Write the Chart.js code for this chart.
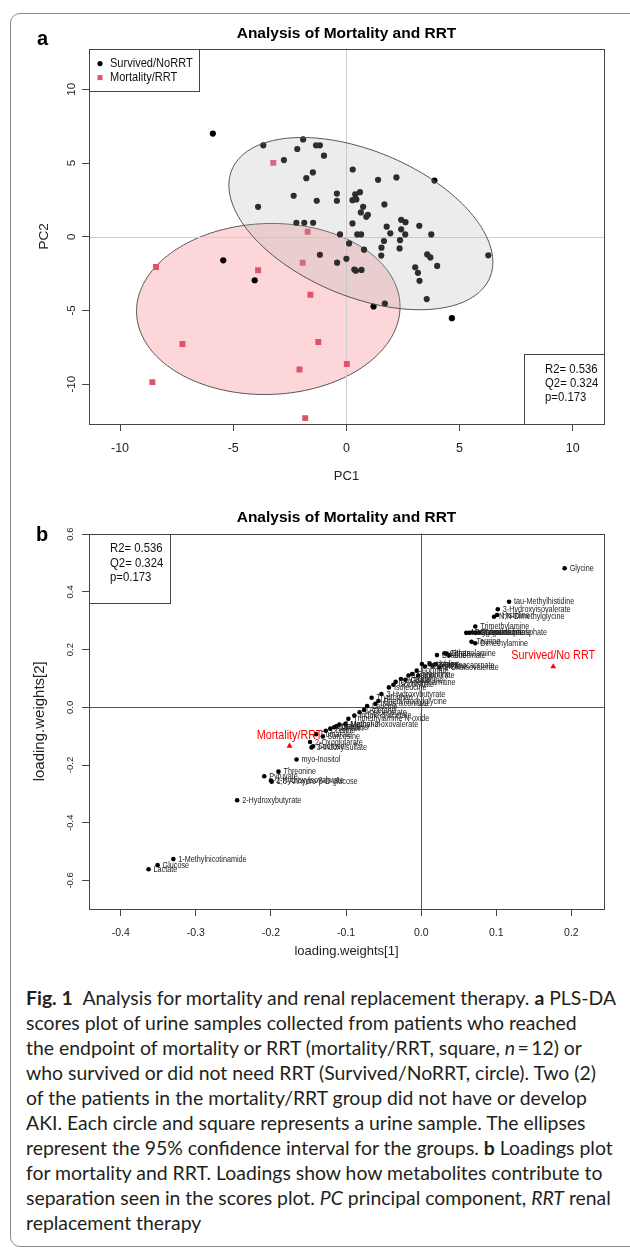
<!DOCTYPE html>
<html>
<head>
<meta charset="utf-8">
<script src="https://cdn.jsdelivr.net/npm/chart.js@4.4.1/dist/chart.umd.min.js"></script>
<style>
  body { margin: 0; background: #fff; width: 630px; height: 1255px; overflow: hidden; position: relative; }
  #frame { position: absolute; left: 10px; top: 13px; width: 640px; height: 1234px; border: 1px solid #8a8a8a; border-radius: 10px; box-sizing: border-box; }
  canvas { position: absolute; left: 0; }
  #chartA { top: 0; }
  #chartB { top: 490px; }
  .letter { position: absolute; font: bold 20px 'Liberation Sans', Arial, sans-serif; line-height: 20px; color: #000; }
  #caption { position: absolute; left: 26px; top: 985px; font-family: Lato, 'Noto Sans', sans-serif; font-size: 17px; line-height: 25px; color: #231f20; white-space: nowrap; }
</style>
</head>
<body>
<div id="frame"></div>
<canvas id="chartA" width="630" height="490"></canvas>
<canvas id="chartB" width="630" height="480"></canvas>
<div class="letter" style="left:37px;top:28px">a</div>
<div class="letter" style="left:36px;top:524px">b</div>
<div id="caption">
<span class="ln"><b>Fig. 1</b>&ensp;Analysis for mortality and renal replacement therapy. <b>a</b> PLS-DA</span><br>
<span class="ln">scores plot of urine samples collected from patients who reached</span><br>
<span class="ln">the endpoint of mortality or RRT (mortality/RRT, square, <i>n</i>&thinsp;=&thinsp;12) or</span><br>
<span class="ln">who survived or did not need RRT (Survived/NoRRT, circle). Two (2)</span><br>
<span class="ln">of the patients in the mortality/RRT group did not have or develop</span><br>
<span class="ln">AKI. Each circle and square represents a urine sample. The ellipses</span><br>
<span class="ln" id="widest">represent the 95% confidence interval for the groups. <b>b</b> Loadings plot</span><br>
<span class="ln">for mortality and RRT. Loadings show how metabolites contribute to</span><br>
<span class="ln">separation seen in the scores plot. <i>PC</i> principal component, <i>RRT</i> renal</span><br>
<span class="ln">replacement therapy</span>
</div>
<script>
const SANS = "'Liberation Sans', Arial, sans-serif";
Chart.defaults.color = '#222';

// ---- panel a: PLS-DA scores ----
const pc1Survived = [-5.9, -3.67, -1.91, -2.17, -1.34, -1.17, -0.99, -2.76, 0.28, -1.48, -1.77, 1.40, 2.21, 3.89,
  -2.33, -1.31, -0.42, -0.42, 0.39, 0.60, 0.27, 0.44, 0.74, 1.68, 0.64, 0.88, 0.95, -3.90, -2.21, -1.86, -1.47,
  0.27, 1.78, 2.42, 2.61, 3.22, -0.28, 0.48, 0.65, 1.94, 2.42, 2.60, 3.75, 2.37, 1.66, 0.12, 1.55, 0.78, 2.35,
  1.54, 3.57, 3.71, 6.27, 0.0, -1.17, -5.44, -0.41, 0.35, 0.42, 0.67, 3.04, 3.16, 4.01, 3.23, -4.05, 3.55, 1.70,
  1.20, 4.66];
const pc2Survived = [7.0, 6.2, 6.6, 5.95, 6.2, 6.2, 5.5, 5.2, 4.56, 4.36, 3.97, 3.86, 4.02, 3.81,
  2.78, 2.44, 2.93, 2.44, 2.87, 3.02, 2.48, 2.53, 2.03, 2.19, 1.65, 1.35, 1.49, 2.03, 0.95, 0.95, 0.95,
  0.90, 0.68, 1.15, 0.99, 0.74, 0.16, 0.16, 0.16, 0.23, 0.50, 0.16, 0.16, -0.23, -0.29, -0.45, -0.74, -0.88, -0.79,
  -1.28, -1.20, -1.40, -1.26, -1.5, -1.22, -1.6, -1.76, -2.23, -2.30, -2.25, -2.07, -2.45, -1.98, -2.99, -2.95, -4.23, -4.53,
  -4.73, -5.52];
const pc1Mortality = [-3.23, -1.71, -1.93, -3.90, -8.41, -1.59, -7.24, -1.24, -2.07, 0.02, -8.57, -1.82];
const pc2Mortality = [5.01, 0.34, -1.76, -2.27, -2.05, -3.94, -7.27, -7.14, -9.01, -8.63, -9.86, -12.3];
const pc1Ticks = [-10, -5, 0, 5, 10];
const pc2Ticks = [-10, -5, 0, 5, 10];

// 95% ellipses: centre, spread on each axis, covariance term (Mortality first, Survived drawn on top)
const ellipseNames = ['Mortality/RRT', 'Survived/NoRRT'];
const ellipseCx = [-3.45, 0.64];
const ellipseCy = [-4.9, 0.89];
const ellipseSx = [5.82, 5.83];
const ellipseSy = [5.8, 5.84];
const ellipseCov = [0.9, -15.2];

const statsLines = ['R2= 0.536', 'Q2= 0.324', 'p=0.173'];

// ---- panel b: loading weights ----
const metaboliteNames = ['Glycine', 'tau-Methylhistidine', '3-Hydroxyisovalerate', 'Histidine', 'N,N-Dimethylglycine',
  'Trimethylamine', 'Methylguanidine', 'Creatine', 'Hypoxanthine', 'Guanidoacetate', 'Creatine phosphate',
  'Taurine', 'Dimethylamine', 'Betaine', 'Citrate', 'Ethanolamine', 'Succinate', 'Tyrosine', 'Trigonelline',
  'Alanine', '2-Oxoisocaproate', 'Valine', '2-Oxoisovalerate', 'Formate', 'Hippurate', 'Creatinine', 'Lysine',
  'Glutamine', 'Acetate', 'O-Acetylcarnitine', 'Isobutyrate', 'Isoleucine', '3-Hydroxybutyrate',
  'Phenylacetylglycine', 'Tryptophan', 'trans-Aconitate', 'Acetone', 'Leucine', 'Acetoacetate', 'Indole-3-acetate',
  'Trimethylamine N-oxide', 'Methanol', '3-Methyl-2-oxovalerate', 'Uracil', 'Carnitine', 'Allantoin', 'Choline',
  'Fumarate', 'Sarcosine', '2-Oxoglutarate', '3-Indoxylsulfate', 'Sucrose', 'myo-Inositol', 'Threonine',
  'Pyruvate', '2-Hydroxyisovalerate', '1,6-Anhydro-\u03b2-D-glucose', '2-Hydroxybutyrate', '1-Methylnicotinamide',
  'Glucose', 'Lactate'];
const loading1 = [0.191, 0.117, 0.102, 0.101, 0.097,
  0.072, 0.060, 0.064, 0.068, 0.072, 0.077,
  0.067, 0.072, 0.021, 0.031, 0.034, 0.037, 0.001, 0.005,
  0.011, 0.015, 0.019, 0.024, -0.006, -0.004, -0.012, -0.017,
  -0.021, -0.027, -0.034, -0.037, -0.043, -0.053,
  -0.057, -0.066, -0.061, -0.076, -0.072, -0.082, -0.089,
  -0.097, -0.101, -0.109, -0.113, -0.116, -0.121, -0.127,
  -0.140, -0.131, -0.148, -0.146, -0.144, -0.166, -0.190,
  -0.209, -0.200, -0.199, -0.245, -0.330,
  -0.351, -0.363];
const loading2 = [0.482, 0.366, 0.340, 0.320, 0.314,
  0.280, 0.258, 0.258, 0.259, 0.258, 0.259,
  0.227, 0.222, 0.181, 0.187, 0.186, 0.180, 0.150, 0.141,
  0.150, 0.144, 0.149, 0.138, 0.127, 0.110, 0.115, 0.110,
  0.095, 0.098, 0.088, 0.078, 0.069, 0.046,
  0.022, 0.033, 0.012, -0.009, 0.004, -0.017, -0.029,
  -0.040, -0.058, -0.060, -0.066, -0.069, -0.074, -0.081,
  -0.093, -0.101, -0.120, -0.139, -0.135, -0.181, -0.223,
  -0.239, -0.254, -0.258, -0.322, -0.526,
  -0.547, -0.561];
const groupNames = ['Mortality/RRT', 'Survived/No RRT'];
const groupLoading1 = [-0.1753, 0.1758];
const groupLoading2 = [-0.134, 0.141];
const lw1Ticks = [-0.4, -0.3, -0.2, -0.1, 0.0, 0.1, 0.2];
const lw2Ticks = [-0.6, -0.4, -0.2, 0.0, 0.2, 0.4, 0.6];

const zip = (xs, ys) => xs.map((x, i) => ({ x, y: ys[i] }));

// the R device squeezed text sideways; mimic that for the drawn labels
function narrowText(ctx, text, x, y, squeeze) {
  ctx.save();
  ctx.translate(x, y);
  ctx.scale(squeeze, 1);
  ctx.fillText(text, 0, 0);
  ctx.restore();
}

// R-like box round the plot region
const framePlugin = {
  id: 'frame',
  afterDraw(chart) {
    const { ctx, chartArea: a } = chart;
    ctx.save();
    ctx.strokeStyle = '#444';
    ctx.lineWidth = 1;
    ctx.strokeRect(Math.round(a.left) + 0.5, Math.round(a.top) + 0.5, Math.round(a.width), Math.round(a.height));
    ctx.restore();
  }
};

function refLines(chart, color) {
  const { ctx, chartArea: a, scales } = chart;
  const x0 = Math.round(scales.x.getPixelForValue(0)) + 0.5;
  const y0 = Math.round(scales.y.getPixelForValue(0)) + 0.5;
  ctx.save();
  ctx.strokeStyle = color;
  ctx.lineWidth = 1;
  ctx.beginPath();
  ctx.moveTo(x0, a.top); ctx.lineTo(x0, a.bottom);
  ctx.moveTo(a.left, y0); ctx.lineTo(a.right, y0);
  ctx.stroke();
  ctx.restore();
}

function ellipse(chart, i, fill) {
  const { ctx, chartArea: a, scales } = chart;
  const b = ellipseCov[i] / ellipseSx[i];
  const c = Math.sqrt(ellipseSy[i] * ellipseSy[i] - b * b);
  ctx.save();
  ctx.beginPath();
  ctx.rect(a.left, a.top, a.width, a.height);
  ctx.clip();
  ctx.beginPath();
  for (let k = 0; k <= 180; k++) {
    const t = k / 180 * Math.PI * 2;
    const px = scales.x.getPixelForValue(ellipseCx[i] + ellipseSx[i] * Math.cos(t));
    const py = scales.y.getPixelForValue(ellipseCy[i] + b * Math.cos(t) + c * Math.sin(t));
    if (k) ctx.lineTo(px, py); else ctx.moveTo(px, py);
  }
  ctx.closePath();
  ctx.fillStyle = fill;
  ctx.fill();
  ctx.strokeStyle = '#555';
  ctx.lineWidth = 1;
  ctx.stroke();
  ctx.restore();
}

function statsBox(ctx, x, y, w, h, tx, ty) {
  ctx.save();
  ctx.fillStyle = '#fff';
  ctx.fillRect(x, y, w, h);
  ctx.strokeStyle = '#444';
  ctx.strokeRect(Math.round(x) + 0.5, Math.round(y) + 0.5, w, h);
  ctx.fillStyle = '#111';
  ctx.font = `13.5px ${SANS}`;
  ctx.textBaseline = 'middle';
  statsLines.forEach((s, i) => narrowText(ctx, s, tx, ty + i * 14.3, 0.84));
  ctx.restore();
}

const scoresPlugin = {
  id: 'scores',
  beforeDatasetsDraw(chart) {
    ellipse(chart, 0, 'rgb(252,214,216)');
    refLines(chart, '#cfcfcf');
  },
  afterDatasetsDraw(chart) {
    ellipse(chart, 1, 'rgba(180,180,180,0.25)');
    const { ctx, chartArea: a } = chart;
    // legend box, top left
    ctx.save();
    ctx.strokeStyle = '#444';
    ctx.strokeRect(Math.round(a.left) + 0.5, Math.round(a.top) + 0.5, 110, 42);
    ctx.font = `13px ${SANS}`;
    ctx.textBaseline = 'middle';
    chart.data.datasets.forEach((ds, i) => {
      const cy = a.top + 15 + i * 14;
      ctx.fillStyle = ds.backgroundColor;
      if (ds.pointStyle === 'rect') ctx.fillRect(a.left + 8.5, cy - 2.5, 5, 5);
      else { ctx.beginPath(); ctx.arc(a.left + 11, cy, 2.6, 0, Math.PI * 2); ctx.fill(); }
      ctx.fillStyle = '#111';
      narrowText(ctx, ds.label, a.left + 21, cy, 0.85);
    });
    ctx.restore();
    statsBox(ctx, a.right - 80, a.bottom - 70, 80, 70, a.right - 59, a.bottom - 55);
  }
};

const loadingsPlugin = {
  id: 'loadings',
  beforeDatasetsDraw(chart) {
    refLines(chart, '#555');
  },
  afterDatasetsDraw(chart) {
    const { ctx, chartArea: a } = chart;
    ctx.save();
    ctx.textBaseline = 'middle';
    ctx.textAlign = 'left';
    ctx.font = `9.5px ${SANS}`;
    ctx.fillStyle = '#222';
    chart.getDatasetMeta(0).data.forEach((el, i) => narrowText(ctx, metaboliteNames[i], el.x + 5, el.y, 0.76));
    ctx.textAlign = 'center';
    ctx.font = `13px ${SANS}`;
    ctx.fillStyle = '#ff0000';
    chart.getDatasetMeta(1).data.forEach((el, i) => narrowText(ctx, groupNames[i], el.x, el.y - 11, 0.83));
    ctx.restore();
    statsBox(ctx, a.left, a.top, 81, 69, a.left + 21, a.top + 15);
  }
};

function axisX(ticks, min, max, height, tickFont, tickPad, title, titleFont, titlePad, fmt) {
  return {
    type: 'linear', min, max,
    afterBuildTicks: s => { s.ticks = ticks.map(v => ({ value: v })); },
    afterFit: s => { s.height = height; },
    border: { display: false },
    grid: { drawOnChartArea: false, drawTicks: true, tickLength: 7, color: '#444' },
    ticks: { font: { family: SANS, size: tickFont }, color: '#222', padding: tickPad, maxRotation: 0, callback: fmt },
    title: { display: true, text: title, color: '#222', font: { family: SANS, size: titleFont }, padding: { top: 0, bottom: titlePad } }
  };
}

function axisY(ticks, min, max, tickFont, tickPad, title, titleFont, titlePad, fmt) {
  return {
    type: 'linear', min, max,
    afterBuildTicks: s => { s.ticks = ticks.map(v => ({ value: v })); },
    afterFit: s => { s.width = 89; },
    border: { display: false },
    grid: { drawOnChartArea: false, drawTicks: true, tickLength: 7, color: '#444' },
    ticks: { font: { family: SANS, size: tickFont }, color: '#222', padding: tickPad, minRotation: 90, maxRotation: 90, crossAlign: 'center', callback: fmt },
    title: { display: true, text: title, color: '#222', font: { family: SANS, size: titleFont }, padding: { top: titlePad, bottom: 0 } }
  };
}

new Chart(document.getElementById('chartA'), {
  type: 'scatter',
  data: {
    datasets: [
      { label: 'Survived/NoRRT', data: zip(pc1Survived, pc2Survived), pointStyle: 'circle', pointRadius: 3.1,
        backgroundColor: '#000', borderWidth: 0 },
      { label: 'Mortality/RRT', data: zip(pc1Mortality, pc2Mortality), pointStyle: 'rect', pointRadius: 4.2,
        backgroundColor: '#df536b', borderWidth: 0 }
    ]
  },
  options: {
    responsive: false, animation: false, events: [],
    layout: { padding: { left: 0, right: 26, top: 0, bottom: 0 } },
    plugins: {
      legend: { display: false },
      tooltip: { enabled: false },
      title: { display: true, fullSize: false, text: 'Analysis of Mortality and RRT', color: '#000',
        font: { family: SANS, size: 15.5, weight: 'bold' }, padding: { top: 24, bottom: 6 } }
    },
    scales: {
      x: axisX(pc1Ticks, -11.37, 11.38, 66, 12.5, 10, 'PC1', 13, 6, v => String(v)),
      y: axisY(pc2Ticks, -12.70, 12.76, 11.5, 2, 'PC2', 13.5, 36, v => String(v))
    }
  },
  plugins: [scoresPlugin, framePlugin]
});

new Chart(document.getElementById('chartB'), {
  type: 'scatter',
  data: {
    datasets: [
      { label: 'metabolites', data: zip(loading1, loading2), pointStyle: 'circle', pointRadius: 2.3,
        backgroundColor: '#000', borderWidth: 0 },
      { label: 'groups', data: zip(groupLoading1, groupLoading2), pointStyle: 'triangle', pointRadius: 3.4,
        backgroundColor: '#ff0000', borderWidth: 0 }
    ]
  },
  options: {
    responsive: false, animation: false, events: [],
    layout: { padding: { left: 0, right: 26, top: 0, bottom: 0 } },
    plugins: {
      legend: { display: false },
      tooltip: { enabled: false },
      title: { display: true, fullSize: false, text: 'Analysis of Mortality and RRT', color: '#000',
        font: { family: SANS, size: 15.5, weight: 'bold' }, padding: { top: 18, bottom: 7 } }
    },
    scales: {
      x: axisX(lw1Ticks, -0.4423, 0.2434, 61, 10.5, 11, 'loading.weights[1]', 13, 11, v => v.toFixed(1)),
      y: axisY(lw2Ticks, -0.699, 0.602, 9.5, 3, 'loading.weights[2]', 15, 31, v => v.toFixed(1))
    }
  },
  plugins: [loadingsPlugin, framePlugin]
});

// fit caption width to the printed line length
const cap = document.getElementById('caption');
const w = document.getElementById('widest').getBoundingClientRect().width;
cap.style.fontSize = (17 * 587 / w).toFixed(2) + 'px';
</script>
</body>
</html>
